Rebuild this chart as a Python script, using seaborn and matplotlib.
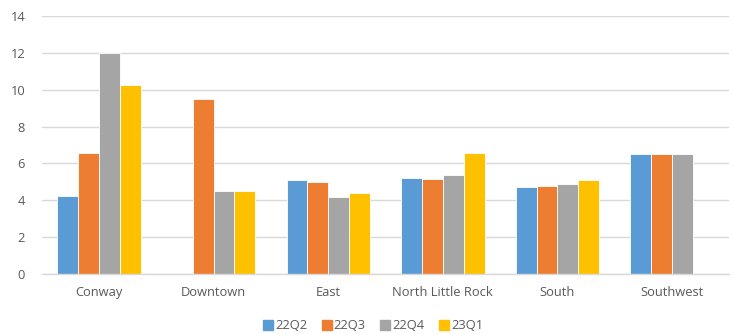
import numpy as np
import pandas as pd
import matplotlib
matplotlib.use("Agg")
import matplotlib.pyplot as plt
from matplotlib.lines import Line2D
import seaborn as sns

categories = ["Conway", "Downtown", "East", "North Little Rock", "South", "Southwest"]
quarters = ["22Q2", "22Q3", "22Q4", "23Q1"]
q22q2 = [4.23, np.nan, 5.12, 5.22, 4.70, 6.51]
q22q3 = [6.55, 9.51, 5.01, 5.17, 4.75, 6.51]
q22q4 = [12.0, 4.50, 4.18, 5.39, 4.86, 6.51]
q23q1 = [10.25, 4.50, 4.39, 6.58, 5.12, np.nan]
colors = ["#5B9BD5", "#ED7D31", "#A5A5A5", "#FFC000"]

rows = []
for q, vals in zip(quarters, [q22q2, q22q3, q22q4, q23q1]):
    for c, v in zip(categories, vals):
        rows.append({"area": c, "quarter": q, "value": v})
df = pd.DataFrame(rows)

sns.set_theme(style="white")
plt.rcParams["font.family"] = ["Open Sans", "DejaVu Sans"]

fig = plt.figure(figsize=(7.33, 3.34), dpi=100)
ax = fig.add_axes([0.057, 0.18, 0.938, 0.772])

sns.barplot(data=df, x="area", y="value", hue="quarter", order=categories,
            hue_order=quarters, palette=colors, width=0.727, saturation=1,
            edgecolor="white", linewidth=0.6, errorbar=None, ax=ax, legend=False)

ax.set_ylim(0, 14)
ax.set_yticks(range(0, 15, 2))
ax.set_xlim(-0.5, len(categories) - 0.5)
ax.set_xlabel("")
ax.set_ylabel("")
ax.yaxis.grid(True, color="#D9D9D9", linewidth=1)
ax.set_axisbelow(True)
for s in ["top", "right", "left"]:
    ax.spines[s].set_visible(False)
ax.spines["bottom"].set_color("#D9D9D9")
ax.spines["bottom"].set_linewidth(1)
ax.tick_params(axis="both", length=0, labelsize=9.3, colors="#595959")
ax.tick_params(axis="x", pad=9)
ax.tick_params(axis="y", pad=12)

handles = [Line2D([0], [0], marker="s", linestyle="", markersize=7,
                  markerfacecolor=c, markeredgecolor=c) for c in colors]
fig.legend(handles, quarters, loc="center", bbox_to_anchor=(0.508, 0.025), ncol=4,
           frameon=False, fontsize=9.3, labelcolor="#595959", handletextpad=0.05,
           columnspacing=1.0, handlelength=1.0)

fig.savefig("out.png", dpi=100)
